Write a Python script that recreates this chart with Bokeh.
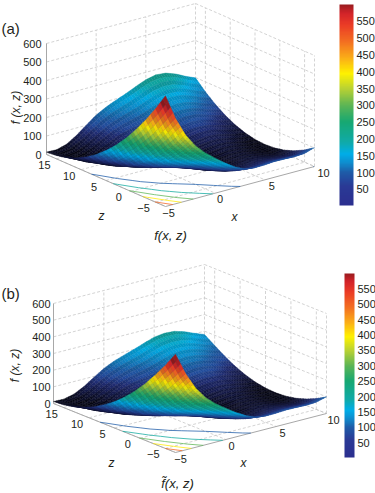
import numpy as np
from bokeh.plotting import figure
from bokeh.layouts import column
from bokeh.models import ColumnDataSource, ColorBar, LinearColorMapper, FixedTicker
from bokeh.core.properties import value
from bokeh.embed import file_html
from bokeh.resources import INLINE

X_VALUES = list(range(-5, 11))
Z_VALUES = list(range(-7, 18, 2))
Y_TICKS = [0, 100, 200, 300, 400, 500, 600]
X_TICKS = [-5, 0, 5, 10]
Z_TICKS = [-5, 0, 5, 10, 15]
BAR_TICKS = [50, 100, 150, 200, 250, 300, 350, 400, 450, 500, 550]
LEVELS = [100, 200, 300, 400, 500]

# panel (a): f(x, z), one row per x, one column per z
a_xm5 = [598, 505, 421, 344, 275, 214, 162, 117, 80, 51, 31, 18, 13]
a_xm4 = [463, 382, 308, 242, 184, 135, 93, 59, 33, 16, 6, 4, 11]
a_xm3 = [359, 287, 223, 168, 120, 80, 48, 25, 9, 1, 2, 10, 26]
a_xm2 = [285, 222, 167, 120, 82, 51, 28, 13, 7, 8, 17, 34, 59]
a_xm1 = [232, 177, 130, 91, 60, 37, 22, 16, 17, 26, 43, 68, 101]
a_x0 = [189, 141, 101, 69, 45, 29, 21, 21, 29, 45, 69, 101, 141]
a_x1 = [148, 106, 72, 46, 28, 17, 15, 21, 35, 57, 87, 124, 170]
a_x2 = [113, 76, 46, 25, 12, 6, 9, 19, 38, 65, 99, 142, 193]
a_x3 = [88, 55, 29, 12, 2, 1, 7, 22, 44, 74, 113, 159, 214]
a_x4 = [80, 49, 26, 11, 5, 6, 15, 32, 57, 90, 132, 181, 238]
a_x5 = [81, 52, 31, 18, 13, 16, 27, 46, 73, 108, 151, 202, 260]
a_x6 = [85, 56, 36, 23, 19, 23, 34, 54, 81, 117, 161, 212, 272]
a_x7 = [84, 55, 35, 22, 17, 20, 32, 51, 78, 113, 156, 208, 267]
a_x8 = [82, 52, 30, 15, 9, 11, 21, 39, 65, 98, 140, 190, 248]
a_x9 = [85, 52, 28, 11, 2, 2, 9, 25, 48, 79, 119, 166, 221]
a_x10 = [102, 66, 38, 18, 6, 2, 6, 18, 38, 66, 102, 146, 198]

# panel (b): f-tilde(x, z)
b_xm5 = [590, 498, 415, 338, 270, 210, 158, 115, 78, 50, 30, 17, 12]
b_xm4 = [458, 378, 304, 238, 181, 133, 91, 58, 33, 17, 8, 5, 10]
b_xm3 = [355, 284, 221, 166, 119, 79, 48, 26, 11, 3, 3, 9, 24]
b_xm2 = [282, 219, 165, 119, 81, 51, 29, 14, 7, 8, 15, 31, 54]
b_xm1 = [229, 175, 129, 90, 60, 37, 23, 16, 16, 25, 41, 64, 94]
b_x0 = [187, 140, 100, 69, 45, 29, 21, 21, 28, 43, 66, 96, 132]
b_x1 = [146, 105, 71, 46, 28, 17, 15, 20, 34, 55, 84, 118, 160]
b_x2 = [112, 75, 46, 25, 12, 6, 9, 19, 37, 63, 95, 136, 181]
b_x3 = [87, 54, 29, 12, 3, 2, 7, 21, 43, 72, 109, 152, 200]
b_x4 = [79, 49, 26, 11, 5, 6, 15, 31, 55, 87, 127, 173, 222]
b_x5 = [80, 52, 31, 18, 13, 16, 26, 45, 71, 104, 145, 193, 242]
b_x6 = [84, 56, 36, 23, 19, 23, 33, 52, 78, 113, 155, 202, 250]
b_x7 = [83, 55, 35, 22, 17, 20, 31, 49, 75, 109, 150, 198, 246]
b_x8 = [81, 52, 30, 15, 9, 11, 20, 38, 63, 95, 135, 181, 228]
b_x9 = [84, 52, 28, 11, 3, 3, 9, 24, 46, 76, 114, 158, 203]
b_x10 = [100, 65, 38, 18, 6, 2, 6, 17, 37, 64, 98, 139, 180]

SURF_A = [a_xm5, a_xm4, a_xm3, a_xm2, a_xm1, a_x0, a_x1, a_x2, a_x3, a_x4, a_x5, a_x6, a_x7, a_x8, a_x9, a_x10]
SURF_B = [b_xm5, b_xm4, b_xm3, b_xm2, b_xm1, b_x0, b_x1, b_x2, b_x3, b_x4, b_x5, b_x6, b_x7, b_x8, b_x9, b_x10]

FONT = value("Liberation Sans")
INK = "#231f20"

# colour scale of the colour bars
ANCHOR_V = [2, 60, 100, 130, 155, 190, 250, 300, 350, 395, 440, 490, 540, 575, 600]
ANCHOR_C = ["#2b2f8f", "#2a3a96", "#1e5ca8", "#0e8fd0", "#00aee8", "#10aaa8", "#17a872", "#5cb555",
            "#b9d233", "#fff200", "#fbb017", "#f36f21", "#eb3c26", "#d2232a", "#9b1c1f"]
RGB = np.array([[int(c[i:i + 2], 16) for i in (1, 3, 5)] for c in ANCHOR_C], float)


def rgb_of(v):
    return np.array([np.interp(v, ANCHOR_V, RGB[:, k]) for k in range(3)])


def hex_of(c):
    return "#%02x%02x%02x" % tuple(int(round(min(255, max(0, q)))) for q in c)


PALETTE = [hex_of(rgb_of(v)) for v in np.linspace(2, 600, 256)]


def draw_panel(p, surf, g):
    F, L, R, H = map(np.array, (g["front"], g["left"], g["right"], (0, g["height"])))

    def proj(x, z, y=0.0):
        s = (x + 5) / 15.0
        t = (z + 7) / 24.0
        q = F + s * (R - F) + t * (L - F)
        return float(q[0]), float(q[1] - y / 600.0 * H[1])

    # walls and floor
    gx, gy = [], []

    def add(a, b):
        gx.append([a[0], b[0]])
        gy.append([a[1], b[1]])

    for y in Y_TICKS:
        add(proj(-5, 17, y), proj(10, 17, y))
        add(proj(10, 17, y), proj(10, -7, y))
    for x in X_TICKS:
        add(proj(x, 17, 0), proj(x, 17, 600))
        add(proj(x, 17, 0), proj(x, -7, 0))
    for z in Z_TICKS:
        add(proj(10, z, 0), proj(10, z, 600))
        add(proj(-5, z, 0), proj(10, z, 0))
    add(proj(10, -7, 0), proj(10, -7, 600))
    p.multi_line(gx, gy, line_color="#c8c8c8", line_width=0.8, line_dash="3 2")

    ax = [[proj(-5, 17, 0)[0], proj(-5, 17, 600)[0]],
          [proj(-5, 17, 0)[0], proj(-5, -7, 0)[0]],
          [proj(-5, -7, 0)[0], proj(10, -7, 0)[0]]]
    ay = [[proj(-5, 17, 0)[1], proj(-5, 17, 600)[1]],
          [proj(-5, 17, 0)[1], proj(-5, -7, 0)[1]],
          [proj(-5, -7, 0)[1], proj(10, -7, 0)[1]]]
    p.multi_line(ax, ay, line_color="#a8a8a8", line_width=1)

    # contours on the floor
    V = np.array(surf, float)
    for level in LEVELS:
        lev = level + 0.01
        sx, sy = [], []
        for i in range(len(X_VALUES) - 1):
            for j in range(len(Z_VALUES) - 1):
                x0, x1 = X_VALUES[i], X_VALUES[i + 1]
                z0, z1 = Z_VALUES[j], Z_VALUES[j + 1]
                edges = [((x0, z0, V[i, j]), (x1, z0, V[i + 1, j])),
                         ((x1, z0, V[i + 1, j]), (x1, z1, V[i + 1, j + 1])),
                         ((x1, z1, V[i + 1, j + 1]), (x0, z1, V[i, j + 1])),
                         ((x0, z1, V[i, j + 1]), (x0, z0, V[i, j]))]
                pts = []
                for a, b in edges:
                    if (a[2] - lev) * (b[2] - lev) < 0:
                        w = (lev - a[2]) / (b[2] - a[2])
                        pts.append(proj(a[0] + w * (b[0] - a[0]), a[1] + w * (b[1] - a[1])))
                if len(pts) == 2:
                    sx.append([pts[0][0], pts[1][0]])
                    sy.append([pts[0][1], pts[1][1]])
        p.multi_line(sx, sy, line_color=hex_of(rgb_of(level)), line_width=0.9, line_alpha=0.85)

    # surface, painted from the far corner to the near corner
    n = 4
    px, py, colors = [], [], []
    for i in range(len(X_VALUES) - 2, -1, -1):
        for j in range(len(Z_VALUES) - 2, -1, -1):
            for a in range(n - 1, -1, -1):
                for b in range(n - 1, -1, -1):
                    us = [a / n, (a + 1) / n, (a + 1) / n, a / n]
                    ws = [b / n, b / n, (b + 1) / n, (b + 1) / n]
                    qx, qy, qv = [], [], []
                    for u, w in zip(us, ws):
                        v = ((1 - u) * (1 - w) * V[i, j] + u * (1 - w) * V[i + 1, j]
                             + (1 - u) * w * V[i, j + 1] + u * w * V[i + 1, j + 1])
                        e = proj(X_VALUES[i] + u, Z_VALUES[j] + 2 * w, v)
                        qx.append(e[0]); qy.append(e[1]); qv.append(v)
                    vm = float(np.mean(qv))
                    zm = Z_VALUES[j] + 2 * (b + 0.5) / n
                    # the printed sheet reads warmer on the near face and cooler on the far rise
                    cm = vm * (1.12 - 0.34 * (zm + 7) / 24)
                    # the dense mesh of the original turns the low parts of the sheet nearly black
                    d = max(0.0, min(0.82, 0.85 * (1 - cm / 85.0)))
                    d = max(d, 0.04)
                    if (j * n + b) % 2:
                        d = min(0.88, d + 0.09)
                    px.append(qx); py.append(qy); colors.append(hex_of(rgb_of(cm) * (1 - d)))
    src = ColumnDataSource(dict(xs=px, ys=py, c=colors))
    p.patches("xs", "ys", source=src, fill_color="c", line_color="c", line_width=0.4)

    # tick labels
    tx = [g["ylab_x"]] * len(Y_TICKS)
    ty = [proj(-5, 17, y)[1] for y in Y_TICKS]
    p.text(tx, ty, text=[str(y) for y in Y_TICKS], text_font=FONT, text_font_size="11px", text_color=INK,
           text_align="right", text_baseline="middle")
    lx, ly, lt = [], [], []
    for z in Z_TICKS:
        q = proj(-5, z, 0)
        lx.append(q[0] + g["zoff"][0]); ly.append(q[1] + g["zoff"][1]); lt.append(str(z).replace("-", "\u2212"))
    for x in X_TICKS:
        q = proj(x, -7, 0)
        dx = g["xoff"][0] + (g["xoff"][1] - g["xoff"][0]) * (x + 5) / 15.0
        lx.append(q[0] + dx); ly.append(q[1] + g["xoff"][2]); lt.append(str(x).replace("-", "\u2212"))
    p.text(lx, ly, text=lt, text_font=FONT, text_font_size="11px", text_color=INK,
           text_align="center", text_baseline="middle")

    # axis titles
    p.text([g["ylabel"][0]], [g["ylabel"][1]], text=["f (x, z)"], angle=np.pi / 2, text_font=FONT,
           text_font_style="italic", text_font_size="12px", text_color=INK, text_align="center", text_baseline="middle")
    p.text([g["zlabel"][0], g["xlabel"][0]], [g["zlabel"][1], g["xlabel"][1]], text=["z", "x"], text_font=FONT,
           text_font_style="italic", text_font_size="12px", text_color=INK, text_align="center", text_baseline="middle")
    p.text([g["title"][0]], [g["title"][1]], text=[g["title_text"]], text_font=FONT, text_font_style="italic",
           text_font_size="13px", text_color=INK, text_align="center", text_baseline="middle")
    p.text([g["tag"][0]], [g["tag"][1]], text=[g["tag_text"]], text_font=FONT, text_font_size="15px",
           text_color=INK, text_align="left", text_baseline="middle")

    # colour bar
    mapper = LinearColorMapper(palette=PALETTE, low=2, high=600)
    cb = ColorBar(color_mapper=mapper, ticker=FixedTicker(ticks=BAR_TICKS), width=g["bar"][2], height=g["bar"][3],
                  location=(g["bar"][0], g["bar"][1]), padding=0, margin=0, label_standoff=3,
                  major_tick_line_color=None, minor_tick_line_color=None, bar_line_color=None,
                  border_line_color=None, background_fill_alpha=0,
                  major_label_text_font="Liberation Sans", major_label_text_font_size="11px",
                  major_label_text_color=INK)
    p.add_layout(cb, "center")


def make(h, y0, y1, surf, g):
    p = figure(width=375, height=h, x_range=(0, 375), y_range=(y1, y0), toolbar_location=None,
               output_backend="svg", min_border=0, x_axis_location=None, y_axis_location=None)
    p.xgrid.visible = False
    p.ygrid.visible = False
    p.outline_line_color = None
    draw_panel(p, surf, g)
    return p


GEOM_A = dict(front=(165, 206), left=(46, 154), right=(314, 166), height=111, ylab_x=41,
              zoff=(-12, 6), xoff=(3, 9, 6), ylabel=(15, 107), zlabel=(101, 215), xlabel=(234, 216),
              title=(170, 235), title_text="f(x, z)", tag=(1, 28), tag_text="(a)", bar=(339, 44, 14, 201))
GEOM_B = dict(front=(175, 452), left=(53, 403), right=(326, 413), height=100, ylab_x=50,
              zoff=(-12, 6), xoff=(5, 7, 6), ylabel=(14, 365), zlabel=(111, 462), xlabel=(243, 462),
              title=(177, 483), title_text="f\u0303(x, z)", tag=(1, 293), tag_text="(b)", bar=(344, 36, 10, 184))

p1 = make(249, 0, 249, SURF_A, GEOM_A)
p2 = make(244, 249, 493, SURF_B, GEOM_B)
page = column(p1, p2, spacing=0)
open("out.html", "w").write(file_html(page, INLINE))
